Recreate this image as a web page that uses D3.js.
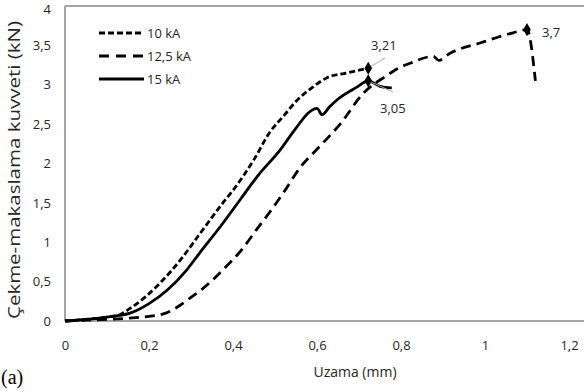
<!DOCTYPE html>
<html><head><meta charset="utf-8">
<script src="https://cdn.jsdelivr.net/npm/d3@7"></script>
<style>body{margin:0;background:#fff;} svg{display:block;}</style>
</head><body><svg id="c" width="584" height="391"></svg>
<script>
const xTicks = [0, 0.2, 0.4, 0.6, 0.8, 1, 1.2];
const xTickLabels = ["0", "0,2", "0,4", "0,6", "0,8", "1", "1,2"];
const yTicks = [0, 0.5, 1, 1.5, 2, 2.5, 3, 3.5, 4];
const yTickLabels = ["0", "0,5", "1", "1,5", "2", "2,5", "3", "3,5", "4"];
const seriesNames = ["10 kA", "12,5 kA", "15 kA"];

const x10 = [0,0.05,0.1,0.13,0.155,0.19,0.226,0.28,0.32,0.376,0.4,0.45,0.488,0.52,0.552,0.59,0.624,0.671,0.722];
const y10 = [0,0.02,0.05,0.08,0.16,0.3,0.48,0.81,1.1,1.5,1.66,2.05,2.4,2.6,2.8,2.97,3.09,3.15,3.21];
const x125 = [0,0.05,0.1,0.16,0.2,0.24,0.274,0.3,0.33,0.376,0.42,0.46,0.49,0.519,0.56,0.607,0.655,0.71,0.767,0.79,0.82,0.877,0.89,0.917,0.988,1.067,1.1,1.12];
const y125 = [0,0.01,0.02,0.04,0.06,0.1,0.2,0.3,0.42,0.65,0.9,1.19,1.4,1.62,1.95,2.22,2.5,2.89,3.12,3.2,3.27,3.36,3.31,3.4,3.53,3.66,3.7,3.05];
const x15 = [0,0.05,0.1,0.13,0.155,0.2,0.243,0.29,0.32,0.37,0.417,0.46,0.512,0.55,0.583,0.6,0.612,0.63,0.648,0.695,0.722,0.75,0.778];
const y15 = [0,0.02,0.05,0.07,0.1,0.22,0.39,0.65,0.86,1.2,1.54,1.85,2.17,2.45,2.66,2.7,2.62,2.72,2.81,2.97,3.05,2.98,2.96];

const peakX = [0.722, 1.1, 0.722];
const peakY = [3.21, 3.7, 3.05];
const peakLabels = ["3,21", "3,7", "3,05"];

const svg = d3.select("#c");
const x = d3.scaleLinear().domain([0, 1.2]).range([65, 569]);
const y = d3.scaleLinear().domain([0, 4]).range([321, 6]);
const font = "'Open Sans', 'Liberation Sans', sans-serif";
const grey = "#868686";
const txt = "#262626";

// frame lines
svg.append("line").attr("x1", 65).attr("x2", 584).attr("y1", 6).attr("y2", 6).attr("stroke", grey).attr("stroke-width", 1.5);
svg.append("line").attr("x1", 65).attr("x2", 65).attr("y1", 6).attr("y2", 321).attr("stroke", grey).attr("stroke-width", 1.5);

const xAxis = d3.axisBottom(x).tickValues(xTicks).tickSize(0).tickPadding(20)
  .tickFormat((d, i) => xTickLabels[i]);
const gx = svg.append("g").attr("transform", "translate(0,321)").call(xAxis);
gx.select(".domain").attr("d", "M65,0H584").attr("stroke", grey).attr("stroke-width", 1.5);
gx.selectAll("text").attr("font-family", font).attr("font-size", 13).attr("fill", txt);

const yAxis = d3.axisLeft(y).tickValues(yTicks).tickSize(0).tickPadding(14)
  .tickFormat((d, i) => yTickLabels[i]);
const gy = svg.append("g").attr("transform", "translate(65,0)").call(yAxis);
gy.select(".domain").remove();
gy.selectAll("text").attr("font-family", font).attr("font-size", 13).attr("fill", txt)
  .attr("dy", d => d === 4 ? "0.55em" : "0.32em");

// axis titles
svg.append("text").attr("x", 355).attr("y", 377).attr("text-anchor", "middle")
  .attr("font-family", font).attr("font-size", 14).attr("fill", txt).text("Uzama (mm)");
svg.append("text").attr("transform", "translate(20,170) rotate(-90)").attr("text-anchor", "middle")
  .attr("font-family", font).attr("font-size", 15.5).attr("fill", txt)
  .attr("textLength", 298).attr("lengthAdjust", "spacingAndGlyphs")
  .text("Çekme-makaslama kuvveti (kN)");
svg.append("text").attr("x", 1).attr("y", 384).attr("font-family", "'Liberation Serif', 'DejaVu Serif', serif")
  .attr("font-size", 20).attr("fill", "#000").text("(a)");

const line = d3.line().x(d => x(d[0])).y(d => y(d[1])).curve(d3.curveMonotoneX);
const zip = (a, b) => a.map((v, i) => [v, b[i]]);
const dashes = ["6,3", "10,6", null];
const data = [zip(x10, y10), zip(x125, y125), zip(x15, y15)];

data.forEach((d, i) => {
  const p = svg.append("path").datum(d).attr("d", line).attr("fill", "none")
    .attr("stroke", "#000").attr("stroke-width", 2.8);
  if (dashes[i]) p.attr("stroke-dasharray", dashes[i]);
});

// leader lines
svg.append("line").attr("x1", x(peakX[0])).attr("y1", y(peakY[0])).attr("x2", 385).attr("y2", 58).attr("stroke", "#aaa").attr("stroke-width", 1);
svg.append("line").attr("x1", x(peakX[2])).attr("y1", y(peakY[2])).attr("x2", 393).attr("y2", 92).attr("stroke", "#aaa").attr("stroke-width", 1);

// markers
const diamond = d3.symbol().type(d3.symbolDiamond).size(50);
peakX.forEach((px, i) => {
  svg.append("path").attr("d", diamond).attr("transform", `translate(${x(px)},${y(peakY[i])})`).attr("fill", "#000");
});
const labelPos = [[371, 50], [542, 37], [380, 113]];
peakLabels.forEach((t, i) => {
  svg.append("text").attr("x", labelPos[i][0]).attr("y", labelPos[i][1])
    .attr("font-family", font).attr("font-size", 13).attr("fill", txt).text(t);
});

// legend
const legY = [33, 56, 79];
seriesNames.forEach((n, i) => {
  const l = svg.append("line").attr("x1", 99).attr("x2", 144).attr("y1", legY[i]).attr("y2", legY[i])
    .attr("stroke", "#000").attr("stroke-width", 2.8);
  if (dashes[i]) l.attr("stroke-dasharray", i === 0 ? "6,3" : "10,7");
  svg.append("text").attr("x", 147).attr("y", legY[i] + 5).attr("font-family", font)
    .attr("font-size", 13).attr("fill", txt).text(n);
});
</script></body></html>
